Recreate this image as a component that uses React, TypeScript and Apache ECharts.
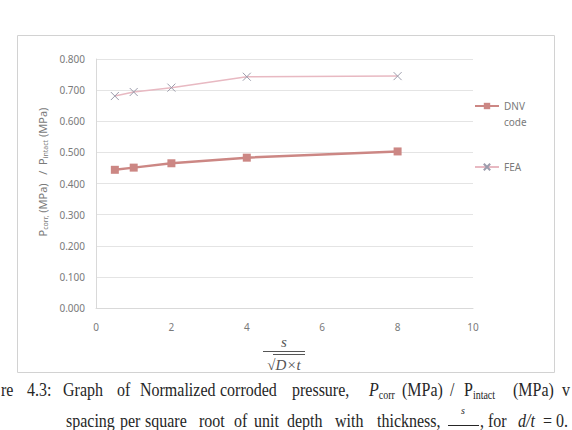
import React, { useEffect, useRef } from "react";
import * as echarts from "echarts";

const xValues = [0.5, 1, 2, 4, 8];
const dnvValues = [0.444, 0.451, 0.465, 0.483, 0.503];
const feaValues = [0.681, 0.694, 0.708, 0.743, 0.745];
const seriesNames = ["DNV code", "FEA"];
const xTicks = { min: 0, max: 10, interval: 2 };
const yTicks = { min: 0, max: 0.8, interval: 0.1 };

const serif = "'Liberation Serif', 'Times New Roman', serif";
const sans = "'Noto Sans', 'Open Sans', sans-serif";
const capColor = "#262626";
const capSize = 16;
const capScaleY = 1.15;

type W = [string, number, boolean?];
const line1: W[] = [
  ["re", 1], ["4.3:", 27], ["Graph", 63], ["of", 117], ["Normalized", 140],
  ["corroded", 220], ["pressure,", 292], ["(MPa)", 402], ["/", 450], ["(MPa)", 513], ["v", 562],
];
const line2: W[] = [
  ["spacing", 66], ["per", 120], ["square", 145], ["root", 199], ["of", 234], ["unit", 254],
  ["depth", 287], ["with", 335], ["thickness,", 377], [", for", 480], ["d/t", 518, true], ["= 0.", 543],
];

export default function App() {
  const ref = useRef<HTMLDivElement>(null);
  useEffect(() => {
    if (!ref.current) return;
    const chart = echarts.init(ref.current, null, { renderer: "svg" });
    const capY1 = 390;
    const capY2 = 421;
    const words = (arr: W[], y: number) =>
      arr.map(([t, x, it]) => ({
        type: "text",
        x,
        y,
        scaleY: capScaleY,
        style: {
          text: t,
          font: `${it ? "italic " : ""}${capSize}px ${serif}`,
          fill: capColor,
          verticalAlign: "middle",
        },
      }));
    chart.setOption({
      animation: false,
      backgroundColor: "#ffffff",
      grid: { left: 96, right: 99, top: 59, bottom: 122, containLabel: false },
      xAxis: {
        type: "value",
        min: xTicks.min,
        max: xTicks.max,
        interval: xTicks.interval,
        axisLine: { show: true, lineStyle: { color: "#d9d9d9" } },
        axisTick: { show: false },
        splitLine: { show: false },
        axisLabel: { color: "#7a7a7a", fontSize: 10, fontFamily: sans, margin: 14 },
      },
      yAxis: {
        type: "value",
        min: yTicks.min,
        max: yTicks.max,
        interval: yTicks.interval,
        axisLine: { show: true, lineStyle: { color: "#d9d9d9" } },
        axisTick: { show: false },
        splitLine: { show: true, lineStyle: { color: "#e4e4e4" } },
        axisLabel: {
          color: "#7a7a7a",
          fontSize: 10,
          fontFamily: sans,
          margin: 11,
          formatter: (v: number) => v.toFixed(3),
        },
      },
      legend: {
        orient: "vertical",
        left: 474,
        top: 82,
        padding: 0,
        itemWidth: 24,
        itemHeight: 8,
        itemGap: 29,
        textStyle: { color: "#7a7a7a", fontSize: 10, fontFamily: sans, lineHeight: 16 },
        formatter: (n: string) => (n === "DNV code" ? " \nDNV\ncode" : n),
        data: seriesNames,
      },
      series: [
        {
          name: seriesNames[0],
          type: "line",
          data: xValues.map((x, i) => [x, dnvValues[i]]),
          symbol: "rect",
          symbolSize: 8,
          lineStyle: { color: "#cc8784", width: 2.5 },
          itemStyle: { color: "#cc8784" },
        },
        {
          name: seriesNames[1],
          type: "line",
          data: xValues.map((x, i) => [x, feaValues[i]]),
          symbol: "path://M0,0L10,10M10,0L0,10",
          symbolSize: 8,
          lineStyle: { color: "#e8b9c2", width: 1.5 },
          itemStyle: { color: "rgba(0,0,0,0)", borderColor: "#9c9cac", borderWidth: 1 },
        },
      ],
      graphic: [
        {
          type: "rect",
          shape: { x: 17.5, y: 35.5, width: 537, height: 337 },
          style: { fill: "none", stroke: "#d2d2d2", lineWidth: 1 },
          silent: true,
        },
        {
          type: "text",
          x: 42,
          y: 172,
          rotation: Math.PI / 2,
          style: {
            text: "P{sub|corr,} (MPa)   /  P{sub|intact} (MPa)",
            font: `11px ${sans}`,
            fill: "#7a7a7a",
            align: "center",
            verticalAlign: "middle",
            rich: {
              sub: { fontSize: 7, fontFamily: sans, fill: "#7a7a7a", verticalAlign: "bottom", lineHeight: 14 },
            },
          },
        },
        {
          type: "text",
          x: 284,
          y: 342,
          style: { text: "s", font: `italic 15px ${serif}`, fill: "#555", align: "center", verticalAlign: "middle" },
        },
        {
          type: "line",
          shape: { x1: 263, y1: 351.5, x2: 305, y2: 351.5 },
          style: { stroke: "#555", lineWidth: 1 },
        },
        {
          type: "line",
          shape: { x1: 273, y1: 354.5, x2: 305, y2: 354.5 },
          style: { stroke: "#555", lineWidth: 1 },
        },
        {
          type: "text",
          x: 284,
          y: 365,
          style: {
            text: "√{i|D×t}",
            font: `15px ${serif}`,
            fill: "#555",
            align: "center",
            verticalAlign: "middle",
            rich: { i: { font: `italic 15px ${serif}`, fill: "#555" } },
          },
        },
        ...words(line1, capY1),
        {
          type: "text",
          x: 369,
          y: capY1,
          scaleY: capScaleY,
          style: {
            text: "{p|P}{s|corr}",
            font: `${capSize}px ${serif}`,
            fill: capColor,
            verticalAlign: "middle",
            rich: {
              p: { font: `italic ${capSize}px ${serif}`, fill: capColor, lineHeight: 19 },
              s: { font: `10px ${serif}`, fill: capColor, verticalAlign: "bottom", lineHeight: 19 },
            },
          },
        },
        {
          type: "text",
          x: 464,
          y: capY1,
          scaleY: capScaleY,
          style: {
            text: "{p|P}{s|intact}",
            font: `${capSize}px ${serif}`,
            fill: capColor,
            verticalAlign: "middle",
            rich: {
              p: { font: `${capSize}px ${serif}`, fill: capColor, lineHeight: 19 },
              s: { font: `10px ${serif}`, fill: capColor, verticalAlign: "bottom", lineHeight: 19 },
            },
          },
        },
        ...words(line2, capY2),
        {
          type: "text",
          x: 463,
          y: 410,
          style: { text: "s", font: `italic 10px ${serif}`, fill: capColor, align: "center", verticalAlign: "middle" },
        },
        {
          type: "line",
          shape: { x1: 448, y1: 425.5, x2: 479, y2: 425.5 },
          style: { stroke: capColor, lineWidth: 1 },
        },
      ],
    });
    return () => chart.dispose();
  }, []);
  return (
    <div
      ref={ref}
      style={{ position: "fixed", left: 0, top: 0, width: 572, height: 430, background: "#fff" }}
    />
  );
}
